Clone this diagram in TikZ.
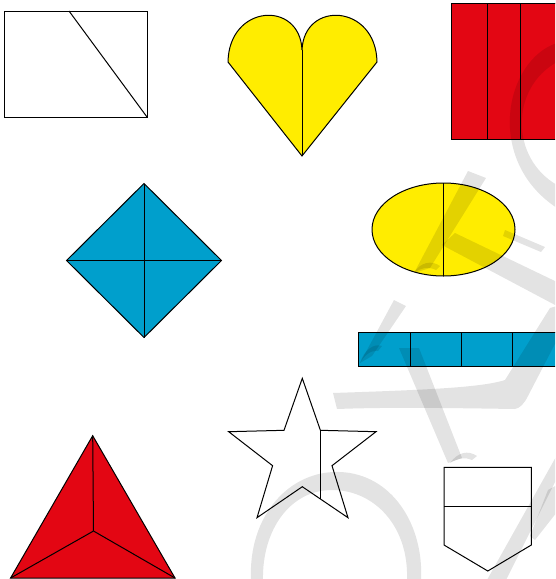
\documentclass[tikz,border=0pt]{standalone}
\definecolor{shyellow}{RGB}{255,237,0}
\definecolor{shred}{RGB}{227,6,19}
\definecolor{shblue}{RGB}{0,159,204}
\begin{document}
\begin{tikzpicture}[x=1pt,y=-1pt]
\tikzset{
  edge/.style={draw=black,line width=1pt,line join=miter},
  wm/.style={fill=black,fill opacity=0.11,draw=none}
}
\useasboundingbox (0,0) rectangle (555,579);
\clip (0,0) rectangle (555,579);

% --- white rectangle with diagonal
\coordinate (r1a) at (4,11);
\coordinate (r1b) at (147,117);
\coordinate (r1d) at (69,11);
\draw[edge] (r1a) rectangle (r1b);
\draw[edge] (r1d) -- (r1b);

% --- heart
\coordinate (hb) at (302,156);
\coordinate (hl) at (228,62);
\coordinate (hc) at (302,50);
\coordinate (hr) at (377,62);
\draw[edge,fill=shyellow] (hb) -- (hl) .. controls (229,4) and (300,0) .. (hc)
   .. controls (304,0) and (376,4) .. (hr) -- cycle;
\draw[edge] (hc) -- (hb);

% --- red rectangle with strips
\draw[edge,fill=shred] (451,3) rectangle (560,139);
\draw[edge] (487,3) -- (487,139);
\draw[edge] (520,3) -- (520,139);

% --- blue diamond
\coordinate (dt) at (144,183.5);
\coordinate (dl) at (66.5,260.5);
\coordinate (dr) at (221.5,260.5);
\coordinate (db) at (144,337.5);
\draw[edge,fill=shblue] (dt) -- (dr) -- (db) -- (dl) -- cycle;
\draw[edge] (dt) -- (db);
\draw[edge] (dl) -- (dr);

% --- yellow ellipse
\draw[edge,fill=shyellow] (443.5,229.5) ellipse [x radius=71.5, y radius=46.5];
\draw[edge] (443.5,183) -- (443.5,276);

% --- blue strip
\draw[edge,fill=shblue] (358.6,332.3) rectangle (566,366);
\foreach \xx in {410,461.3,512.6} \draw[edge] (\xx,332.3) -- (\xx,366);

% --- red triangle
\coordinate (tt) at (92.7,435.7);
\coordinate (tl) at (10.6,578);
\coordinate (tr) at (175,578);
\coordinate (tc) at (93.5,531);
\draw[edge,fill=shred] (tt) -- (tr) -- (tl) -- cycle;
\draw[edge] (tc) -- (tt);
\draw[edge] (tc) -- (tl);
\draw[edge] (tc) -- (tr);

% --- star
\coordinate (s1) at (302.3,378.3);
\coordinate (s2) at (320.4,430.3);
\coordinate (s3) at (376,431.7);
\coordinate (s4) at (332,465.7);
\coordinate (s5) at (348,517.7);
\coordinate (s6) at (302.3,486.7);
\coordinate (s7) at (257,517.7);
\coordinate (s8) at (272.6,465.7);
\coordinate (s9) at (228.7,431.7);
\coordinate (s10) at (284,430.3);
\coordinate (s11) at (320.4,499);
\draw[edge] (s1) -- (s2) -- (s3) -- (s4) -- (s5) -- (s6) -- (s7) -- (s8) -- (s9) -- (s10) -- cycle;
\draw[edge] (s2) -- (s11);

% --- pentagon (shield)
\coordinate (p1) at (444,467.3);
\coordinate (p2) at (531.3,467.3);
\coordinate (p3) at (531.3,545);
\coordinate (p4) at (487.8,571);
\coordinate (p5) at (444,545);
\draw[edge] (p1) -- (p2) -- (p3) -- (p4) -- (p5) -- cycle;
\draw[edge] (444,506.3) -- (531.3,506.3);

% --- watermark
\fill[wm] (557,43) .. controls (505,60) and (484,160) .. (557,208)
   -- (557,185) .. controls (510,158) and (510,88) .. (557,62) -- cycle;
\fill[wm] (468,171) -- (486,178) -- (430,268) -- (414,273) -- cycle;
\fill[wm] (414,273) .. controls (420,262) and (432,260) .. (440,266) -- (436,270) .. controls (428,266) and (420,268) .. (414,273) -- cycle;
\fill[wm] (455,233) -- (557,282) -- (557,306) -- (442,245) -- cycle;
\fill[wm] (505,230) -- (545,247) -- (541,252) -- (503,236) -- cycle;
\fill[wm] (394,300) -- (406,306) -- (372,356) -- (360,363) -- cycle;
\fill[wm] (360,363) .. controls (364,350) and (374,343) .. (382,346) -- (378,351) .. controls (370,350) and (364,356) .. (360,363) -- cycle;
\fill[wm] (333,393) .. controls (420,390) and (480,388) .. (505,380)
   -- (550,308) -- (557,306) -- (557,340) -- (528,396) .. controls (524,404) and (520,408) .. (515,409)
   .. controls (450,408) and (390,407) .. (337,409) -- cycle;
\fill[wm] (399,348) -- (419,348) -- (462,458) -- (448,463) -- cycle;
\fill[wm] (450,463) .. controls (458,452) and (468,450) .. (477,456) -- (472,460) .. controls (466,457) and (458,458) .. (450,463) -- cycle;
\fill[wm] (251,580) .. controls (248,515) and (290,470) .. (340,472)
   .. controls (392,474) and (424,525) .. (421,580)
   -- (407,580) .. controls (409,527) and (375,490) .. (332,490)
   .. controls (290,490) and (262,530) .. (263,580) -- cycle;
\fill[wm] (557,455) -- (557,478) -- (506,580) -- (487,580) -- cycle;
\fill[wm] (548,490) -- (557,485) -- (557,512) -- (535,540) -- (530,536) -- cycle;
\end{tikzpicture}
\end{document}
